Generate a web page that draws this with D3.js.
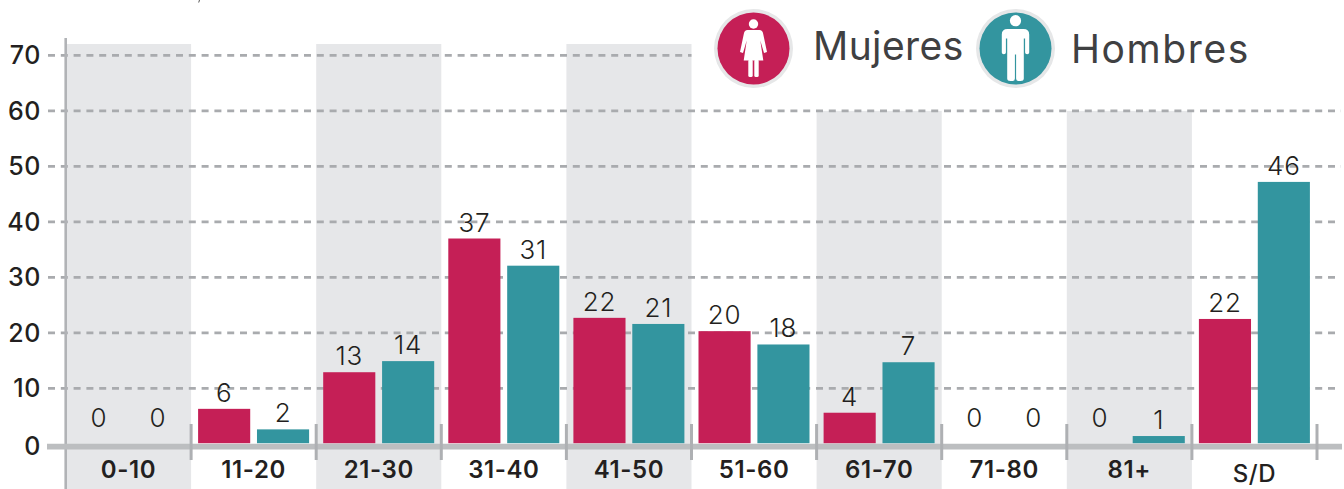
<!DOCTYPE html>
<html><head><meta charset="utf-8">
<script src="https://cdn.jsdelivr.net/npm/d3@7/dist/d3.min.js"></script>
<style>
html,body{margin:0;padding:0;background:#fff;overflow:hidden}
svg{display:block}
text{font-family:Inter,"Open Sans",sans-serif}
</style></head><body>
<svg id="c" width="1344" height="489"></svg>
<script>
const categories=["0-10","11-20","21-30","31-40","41-50","51-60","61-70","71-80","81+","S/D"];
const series=["Mujeres","Hombres"];
// printed labels
const mujeresLabels=[0,6,13,37,22,20,4,0,0,22];
const hombresLabels=[0,2,14,31,21,18,7,0,1,46];
// bar lengths as drawn, read against the axis
const mujeresBars=[0,6.3,12.9,37,22.7,20.3,5.6,0,0,22.5];
const hombresBars=[0,2.6,14.9,32.1,21.6,17.9,14.7,0,1.4,47.2];
const yTicks=[0,10,20,30,40,50,60,70];
const shadedCategories=["0-10","21-30","41-50","61-70","81+"];
const tallShaded=["0-10","21-30","41-50"];

const RED="#c51f56",TEAL="#33959f",BAND="#e6e7e9",AXIS="#bcbec0",GRID="#a9abae",TICK="#aeb0b3",INK="#231f20";
const svg=d3.select("#c");
const y=d3.scaleLinear().domain([0,70]).range([443.8,55.4]);
const x=d3.scaleBand().domain(categories).range([66,1317]);
const sub=d3.scaleBand().domain(series).range([7,118]).paddingInner(0.115);

// shaded columns
svg.append("g").selectAll("rect").data(shadedCategories).join("rect")
  .attr("x",d=>x(d)).attr("width",x.bandwidth())
  .attr("y",d=>tallShaded.includes(d)?44:y(60)).attr("height",d=>489-(tallShaded.includes(d)?44:y(60)))
  .attr("fill",BAND);

// grid
svg.append("g").selectAll("line").data(yTicks.filter(d=>d>0)).join("line")
  .attr("x1",48).attr("x2",d=>d===70?x("41-50")+x.bandwidth():d>=50?1341:1336)
  .attr("y1",d=>y(d)).attr("y2",d=>y(d))
  .attr("stroke",GRID).attr("stroke-width",2.8).attr("stroke-dasharray","7 5.8");

// vertical axis line
svg.append("line").attr("x1",65.7).attr("x2",65.7).attr("y1",38).attr("y2",489)
  .attr("stroke","#b1b3b6").attr("stroke-width",2.6);
// baseline
svg.append("line").attr("x1",47).attr("x2",1342).attr("y1",y(0)+2.8).attr("y2",y(0)+2.8)
  .attr("stroke",AXIS).attr("stroke-width",5.8);
// category separators
svg.append("g").selectAll("line").data(categories).join("line")
  .attr("x1",d=>x(d)+x.bandwidth()).attr("x2",d=>x(d)+x.bandwidth())
  .attr("y1",424).attr("y2",460).attr("stroke",TICK).attr("stroke-width",3);

// y axis labels
const gy=svg.append("g").attr("transform","translate(41,0)")
  .call(d3.axisLeft(y).tickValues(yTicks).tickSize(0).tickPadding(0));
gy.select(".domain").remove();
gy.selectAll("text").attr("x",0).attr("dy",null)
  .attr("y",d=>d===0?11:8.5)
  .style("font-size","25px").style("font-weight",500).style("letter-spacing","0.6px")
  .attr("fill",INK).attr("text-anchor","end");

// x axis labels
const gx=svg.append("g").attr("transform","translate(0,478)")
  .call(d3.axisBottom(x).tickSize(0).tickPadding(0));
gx.select(".domain").remove();
gx.selectAll("text").attr("dy",null).attr("y",d=>d==="S/D"?4:0)
  .style("font-size","24px").style("font-weight",d=>d==="S/D"?500:600).style("letter-spacing","0.6px")
  .attr("fill",INK);

// bars + labels
const rows=[
  {name:"Mujeres",color:RED,bars:mujeresBars,labels:mujeresLabels},
  {name:"Hombres",color:TEAL,bars:hombresBars,labels:hombresLabels}
];
rows.forEach(s=>{
  const data=categories.map((c,i)=>({c,bar:s.bars[i],label:s.labels[i]}));
  const cx=d=>x(d.c)+sub(s.name)+sub.bandwidth()/2;
  svg.append("g").selectAll("rect").data(data.filter(d=>d.bar>0)).join("rect")
    .attr("x",d=>x(d.c)+sub(s.name)).attr("width",sub.bandwidth())
    .attr("y",d=>y(d.bar)).attr("height",d=>y(0)-0.6-y(d.bar))
    .attr("fill",s.color);
  svg.append("g").selectAll("text").data(data).join("text")
    .attr("x",cx).attr("y",d=>d.bar>0?y(d.bar)-7:y(0)-17)
    .attr("text-anchor","middle")
    .style("font-size","26px").style("font-weight",300).style("letter-spacing","0.8px").attr("fill",INK)
    .text(d=>d.label);
});

// legend
function badge(cx,cy,color,parts){
  const g=svg.append("g").attr("transform",`translate(${cx},${cy})`);
  g.append("circle").attr("r",39.5).attr("fill","#e6e7e8");
  g.append("circle").attr("r",36).attr("fill",color);
  parts(g);
}
badge(753.5,48.5,RED,g=>{
  g.append("circle").attr("cy",-24.5).attr("r",4.7).attr("fill","#fff");
  g.append("path").attr("fill","#fff")
   .attr("d","M-6,-18.5 L6,-18.5 Q9,-18.5 9.6,-15 L13.5,3.5 L10.5,4.5 L6.8,-8 L9.8,12 L-9.8,12 L-6.8,-8 L-10.5,4.5 L-13.5,3.5 L-9.6,-15 Q-9,-18.5 -6,-18.5 Z");
  g.append("rect").attr("x",-5.2).attr("y",11).attr("width",4.4).attr("height",17.5).attr("rx",1.5).attr("fill","#fff");
  g.append("rect").attr("x",0.8).attr("y",11).attr("width",4.4).attr("height",17.5).attr("rx",1.5).attr("fill","#fff");
});
badge(1015.5,48.5,TEAL,g=>{
  g.append("circle").attr("cy",-27.8).attr("r",5.6).attr("fill","#fff");
  g.append("path").attr("fill","#fff")
   .attr("d","M-8,-19.5 L8,-19.5 Q13.7,-19.5 13.7,-14 L13.7,4 Q13.7,5.8 11.7,5.8 Q9.6,5.8 9.6,4 L9.6,-10 L8.3,-10 L8.3,30 Q8.3,32.5 5,32.5 L3,32.5 Q0.6,32.5 0.6,30 L0.6,6 L-0.6,6 L-0.6,30 Q-0.6,32.5 -3,32.5 L-5,32.5 Q-8.3,32.5 -8.3,30 L-8.3,-10 L-9.6,-10 L-9.6,4 Q-9.6,5.8 -11.7,5.8 Q-13.7,5.8 -13.7,4 L-13.7,-14 Q-13.7,-19.5 -8,-19.5 Z");
});
const legendLabels=[{t:series[0],x:813,y:60,ls:0.4},{t:series[1],x:1071,y:63,ls:1.6}];
svg.append("g").selectAll("text").data(legendLabels).join("text")
  .attr("x",d=>d.x).attr("y",d=>d.y).text(d=>d.t)
  .style("font-size","39px").style("font-weight",400).style("letter-spacing",d=>d.ls+"px").attr("fill","#3f4042");

// stray clipped mark at the top edge of the source image
svg.append("line").attr("x1",199.5).attr("x2",198.7).attr("y1",0).attr("y2",2.5).attr("stroke","#555").attr("stroke-width",1);
</script>
</body></html>
